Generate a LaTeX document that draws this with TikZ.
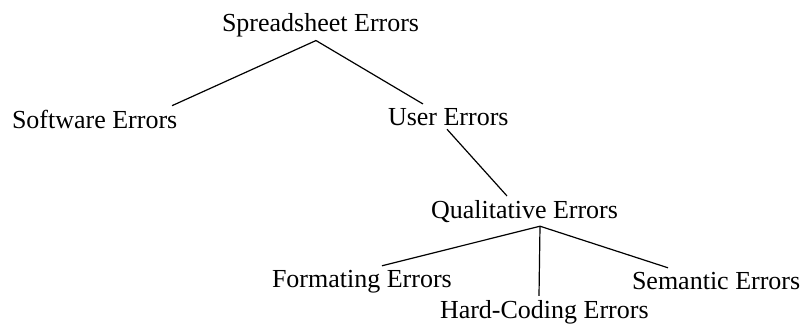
\documentclass[tikz,border=0pt]{standalone}
\usepackage{fontspec}
\setmainfont{Liberation Serif}

\begin{document}
\begin{tikzpicture}[x=0.5pt, y=-0.5pt,
    lbl/.style={anchor=base west, inner xsep=0pt, inner ysep=2pt, outer sep=0pt, font=\fontsize{13}{15}\selectfont},
    branch/.style={line width=0.6pt}]
\useasboundingbox (0,0) rectangle (804,327);

% Root
\node[lbl] (spread) at (222,31) {Spreadsheet Errors};

% First level
\node[lbl] (soft) at (12,128) {Software Errors};
\node[lbl] (user) at (388,125) {User Errors};
\draw[branch] ([xshift=47pt]spread.south west) -- ([xshift=80pt]soft.north west);
\draw[branch] ([xshift=47pt]spread.south west) -- ([xshift=17.5pt]user.north west);

% Second level
\node[lbl] (qual) at (431,218) {Qualitative Errors};
\draw[branch] ([xshift=29.5pt]user.south west) -- ([xshift=38pt]qual.north west);

% Leaves
\node[lbl] (fmt) at (272,287) {Formating Errors};
\node[lbl] (hard) at (440,318) {Hard-Coding Errors};
\node[lbl] (sem) at (632,289) {Semantic Errors};
\draw[branch] ([xshift=54.5pt]qual.south west) -- ([xshift=55pt]fmt.north west);
\draw[branch] ([xshift=54.5pt]qual.south west) -- ([xshift=49.5pt]hard.north west);
\draw[branch] ([xshift=54.5pt]qual.south west) -- ([xshift=18pt]sem.north west);
\end{tikzpicture}
\end{document}
